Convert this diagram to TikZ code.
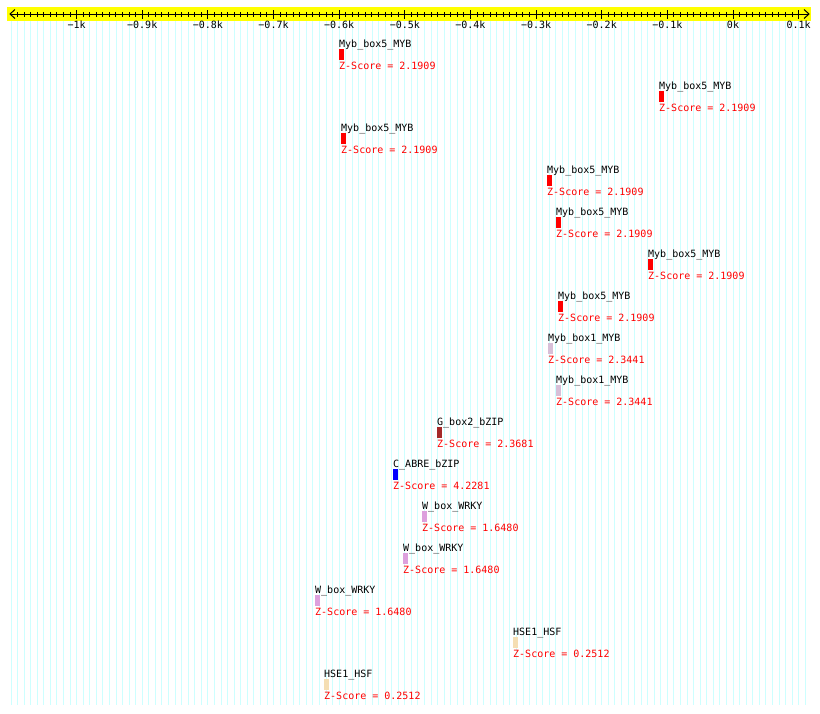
\documentclass[tikz,border=0pt]{standalone}
\usepackage{fontspec}
\newfontfamily\monof{DejaVu Sans Mono}
\definecolor{gridc}{RGB}{205,255,255}
\definecolor{axisy}{RGB}{255,255,0}
\definecolor{cthistle}{RGB}{216,191,216}
\definecolor{cbrown}{RGB}{165,42,42}
\definecolor{cplum}{RGB}{221,160,221}
\definecolor{cwheat}{RGB}{245,222,179}
\tikzset{
  gridline/.style={draw=gridc, line width=0.9pt},
  axisline/.style={draw=black, line width=1pt},
  txt/.style={font=\monof\fontsize{10}{12}\selectfont, inner sep=0pt, anchor=base west},
  nametxt/.style={txt, text=black},
  scoretxt/.style={txt, text=red},
  ticklbl/.style={font=\monof\fontsize{10}{12}\selectfont, inner sep=0pt, anchor=base, text=black},
  featbox/.style={minimum width=5pt, minimum height=11pt, inner sep=0pt, anchor=north west, draw=none}
}
\begin{document}
\begin{tikzpicture}[x=1pt, y=-1pt]
\useasboundingbox[fill=white] (0,0) rectangle (820,713);
% background grid
\foreach \v in {-1100,-1090,...,110}{
  \draw[gridline] ({733+0.6564*\v},21) -- ({733+0.6564*\v},705);
}
% axis band
\fill[axisy] (7,7) rectangle (811,21);
\coordinate (axL) at (10,14);
\coordinate (axR) at (809,14);
\draw[axisline] (axL) -- (axR);
\draw[axisline] (15,9.5) -- (axL) -- (15,18.5);
\draw[axisline] (804,9.5) -- (axR) -- (804,18.5);
\foreach \v in {-1090,-1080,...,100}{
  \draw[axisline] ({733+0.6564*\v},12) -- ({733+0.6564*\v},17);
}
\foreach \v/\t in {-1000/{−1k},-900/{−0.9k},-800/{−0.8k},-700/{−0.7k},-600/{−0.6k},-500/{−0.5k},-400/{−0.4k},-300/{−0.3k},-200/{−0.2k},-100/{−0.1k},0/{0k},100/{0.1k}}{
  \draw[axisline] ({733+0.6564*\v},10) -- ({733+0.6564*\v},19);
  \node[ticklbl] (t\v) at ({733+0.6564*\v},28.5) {\t};
}
% features
\foreach \x/\r/\nm/\col/\sc [count=\i] in {
  339/0/Myb\_box5\_MYB/red/2.1909,
  659/1/Myb\_box5\_MYB/red/2.1909,
  341/2/Myb\_box5\_MYB/red/2.1909,
  547/3/Myb\_box5\_MYB/red/2.1909,
  556/4/Myb\_box5\_MYB/red/2.1909,
  648/5/Myb\_box5\_MYB/red/2.1909,
  558/6/Myb\_box5\_MYB/red/2.1909,
  548/7/Myb\_box1\_MYB/cthistle/2.3441,
  556/8/Myb\_box1\_MYB/cthistle/2.3441,
  437/9/G\_box2\_bZIP/cbrown/2.3681,
  393/10/C\_ABRE\_bZIP/blue/4.2281,
  422/11/W\_box\_WRKY/cplum/1.6480,
  403/12/W\_box\_WRKY/cplum/1.6480,
  315/13/W\_box\_WRKY/cplum/1.6480,
  513/14/HSE1\_HSF/cwheat/0.2512,
  324/15/HSE1\_HSF/cwheat/0.2512}{
  \node[nametxt] (n\i) at (\x,{47+42*\r}) {\nm};
  \node[featbox, fill=\col] (b\i) at (\x,{49+42*\r}) {};
  \node[scoretxt] (z\i) at (\x,{69+42*\r}) {Z-Score = \sc};
}
\end{tikzpicture}
\end{document}
